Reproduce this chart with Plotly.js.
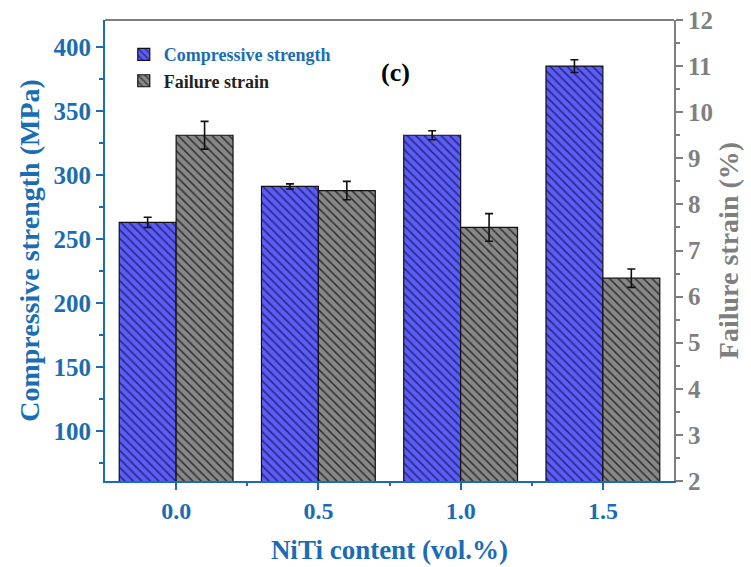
<!DOCTYPE html>
<html>
<head>
<meta charset="utf-8">
<script src="https://cdn.plot.ly/plotly-3.0.1.min.js"></script>
<style>html,body{margin:0;padding:0;background:#fff;}#chart{width:751px;height:567px;}</style>
</head>
<body>
<div id="chart"></div>
<script>
var categories = ['0.0', '0.5', '1.0', '1.5'];
var strength = [263, 291, 331, 385];
var strengthErr = [4, 2, 3.5, 5];
var strain = [9.5, 8.3, 7.5, 6.4];
var strainErr = [0.3, 0.2, 0.3, 0.2];
var midTicks = [0.5, 1.5, 2.5];

var BLUE = '#1b6db3';
var GRAY = '#7f7f7f';
var FONT = 'Liberation Serif, Times New Roman, serif';

var traces = [
  {
    type: 'bar', x: categories, y: strength, name: '<span style="color:' + BLUE + '">Compressive strength</span>',
    xaxis: 'x', yaxis: 'y', width: 0.4, offset: -0.4,
    marker: {color: '#5a5af5', line: {color: '#111', width: 1.2},
      pattern: {shape: '\\', fgcolor: '#25257a', bgcolor: '#5c5cf7', size: 6, solidity: 0.25}},
    error_y: {type: 'data', array: strengthErr, visible: true, color: '#111', thickness: 1.6, width: 4}
  },
  {
    type: 'bar', x: categories, y: strain, name: 'Failure strain',
    xaxis: 'x', yaxis: 'y2', width: 0.4, offset: 0,
    marker: {color: '#7c7c7c', line: {color: '#111', width: 1.2},
      pattern: {shape: '\\', fgcolor: '#2e2e2e', bgcolor: '#888888', size: 6, solidity: 0.25}},
    error_y: {type: 'data', array: strainErr, visible: true, color: '#111', thickness: 1.6, width: 4}
  },
  {
    type: 'scatter', x: midTicks, y: [2, 2, 2], xaxis: 'x2', yaxis: 'y2', mode: 'markers',
    marker: {opacity: 0}, showlegend: false, hoverinfo: 'skip'
  }
];

var layout = {
  width: 751, height: 567,
  margin: {l: 105, r: 77, t: 20, b: 86},
  paper_bgcolor: '#fff', plot_bgcolor: '#fff',
  font: {family: FONT, size: 20, color: '#000'},
  showlegend: true,
  legend: {x: 0.033, y: 0.965, xanchor: 'left', yanchor: 'top', bgcolor: 'rgba(0,0,0,0)',
    font: {family: FONT, size: 18, color: '#222', weight: 'bold'}, tracegroupgap: 2, itemwidth: 30},
  xaxis: {
    type: 'category', categoryarray: categories, range: [-0.5, 3.5],
    showline: true, linecolor: BLUE, linewidth: 2,
    ticks: 'outside', ticklen: 7, tickwidth: 2, tickcolor: BLUE,
    tickfont: {family: FONT, size: 24, color: BLUE, weight: 'bold'},
    showgrid: false, zeroline: false,
    title: {text: 'NiTi content (vol.%)', font: {family: FONT, size: 27, color: BLUE, weight: 'bold'}, standoff: 17}
  },
  xaxis2: {
    overlaying: 'x', type: 'linear', range: [-0.5, 3.5], side: 'bottom', anchor: 'y',
    tickvals: midTicks, ticks: 'outside', ticklen: 4, tickwidth: 2, tickcolor: BLUE,
    showticklabels: false, showgrid: false, zeroline: false, showline: false
  },
  yaxis: {
    range: [61, 421], tickvals: [100, 150, 200, 250, 300, 350, 400],
    showline: true, linecolor: BLUE, linewidth: 2,
    ticks: 'outside', ticklen: 7, tickwidth: 2, tickcolor: BLUE,
    minor: {tickvals: [75, 125, 175, 225, 275, 325, 375], ticks: 'outside', ticklen: 4, tickwidth: 2, tickcolor: BLUE, showgrid: false},
    tickfont: {family: FONT, size: 25, color: BLUE, weight: 'bold'},
    showgrid: false, zeroline: false,
    title: {text: 'Compressive strength (MPa)', font: {family: FONT, size: 28, color: BLUE, weight: 'bold'}, standoff: 6}
  },
  yaxis2: {
    overlaying: 'y', side: 'right', anchor: 'x',
    range: [2, 12], dtick: 1,
    showline: true, linecolor: GRAY, linewidth: 2,
    ticks: 'outside', ticklen: 7, tickwidth: 2, tickcolor: GRAY,
    minor: {dtick: 0.5, ticks: 'outside', ticklen: 4, tickwidth: 2, tickcolor: GRAY, showgrid: false},
    tickfont: {family: FONT, size: 25, color: GRAY, weight: 'bold'},
    showgrid: false, zeroline: false,
    title: {text: 'Failure strain (%)', font: {family: FONT, size: 28, color: GRAY, weight: 'bold'}, standoff: 6}
  },
  shapes: [
    {type: 'line', xref: 'paper', yref: 'paper', x0: 0, x1: 1, y0: 1, y1: 1, line: {color: GRAY, width: 2}}
  ],
  annotations: [
    {text: '(c)', xref: 'paper', yref: 'paper', x: 0.51, y: 0.887, yanchor: 'middle', xanchor: 'center', showarrow: false,
      font: {family: FONT, size: 26, color: '#000', weight: 'bold'}}
  ]
};

Plotly.newPlot('chart', traces, layout, {displayModeBar: false, staticPlot: true});
</script>
</body>
</html>
